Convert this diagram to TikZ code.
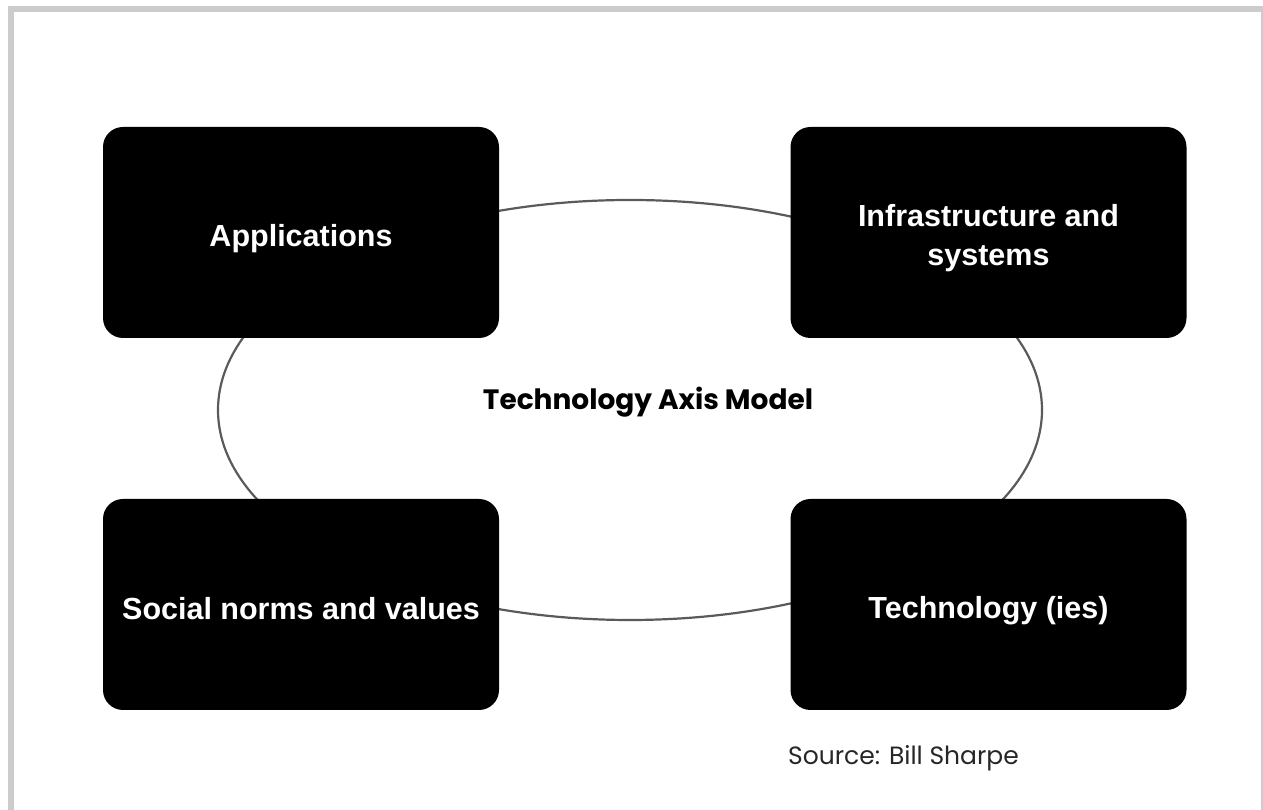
\documentclass[tikz,border=0pt]{standalone}
\usepackage{fontspec}
\setmainfont{Liberation Sans}
\newfontfamily\titlefont{Poppins}
\usetikzlibrary{positioning}

\definecolor{framegray}{HTML}{CCCCCC}
\definecolor{ringgray}{HTML}{5A5A5A}

\tikzset{
  axisbox/.style={fill=black, rounded corners=20pt, minimum width=396pt,
    minimum height=211pt, inner sep=0pt, align=center, text=white,
    font=\fontsize{30.5}{40}\selectfont\bfseries},
  boxtext/.style={text=white, align=center, font=\fontsize{30.5}{39}\selectfont\bfseries, yshift=-6pt},
}

\begin{document}
\begin{tikzpicture}[x=1pt, y=1pt, node distance=372pt and 687.5pt, on grid]
			\useasboundingbox (0,0) rectangle (1263,810);
			% frame
			\fill[framegray] (8,798) rectangle (1263,804);
			\fill[framegray] (8,0) rectangle (14,804);
			\fill[framegray] (1261,0) rectangle (1263,804);
			
			% the ring behind the boxes
			\draw[ringgray, line width=2.2pt] (630,400) ellipse [x radius=412pt, y radius=210pt];
			
			\node[axisbox] (apps) at (301,577.5) {};
			\node[axisbox, right=of apps] (infra) {};
			\node[axisbox, below=of apps] (social) {};
			\node[axisbox, below=of infra] (tech) {};
			
			\node[boxtext] at (apps) {Applications};
			\node[boxtext] at (infra) {Infrastructure and\\systems};
			\node[boxtext, yshift=2pt] at (social) {Social norms and values};
			\node[boxtext] at (tech) {Technology (ies)};
			
			\node[font=\titlefont\fontsize{28}{32}\selectfont\bfseries] (model) at (648,408) {Technology Axis Model};
			\node[font=\titlefont\fontsize{25}{30}\selectfont, text=black!85] (source) at (903.5,52) {Source: Bill Sharpe};
		\end{tikzpicture}
\end{document}
